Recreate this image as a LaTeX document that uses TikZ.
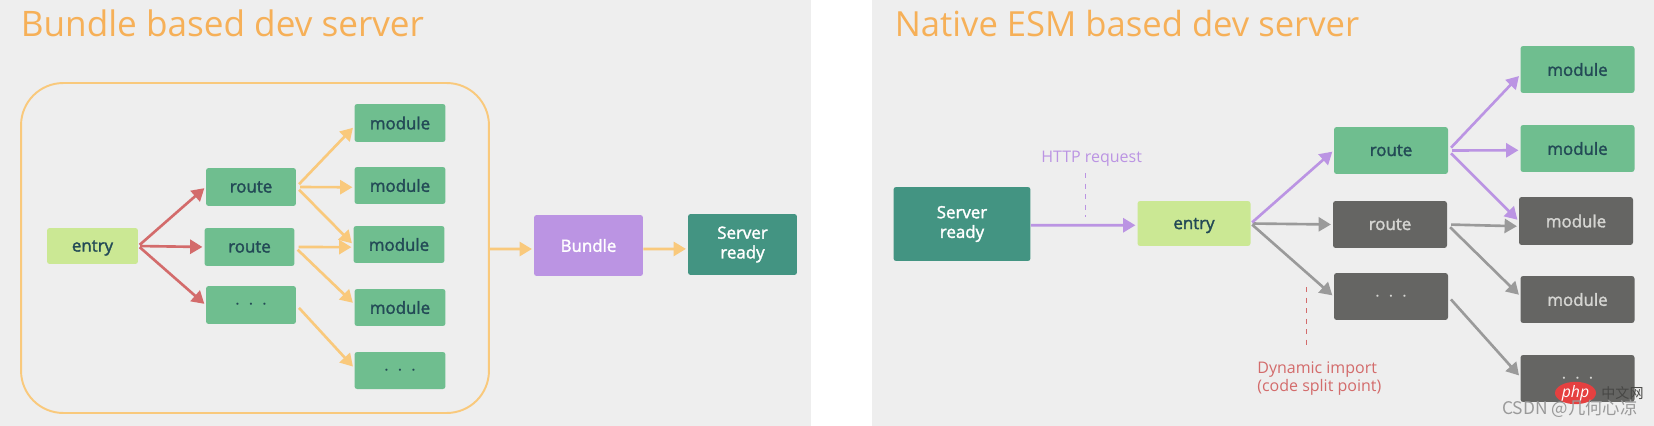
\documentclass[tikz,border=0pt]{standalone}
\usepackage{fontspec}
\usepackage{tikz}
\usetikzlibrary{arrows.meta, shapes.geometric}
\setmainfont{Open Sans}
\newfontfamily\labelfont[FakeBold=1.8]{Open Sans}
\newfontfamily\cjkfont{Noto Sans CJK SC}
\definecolor{panelgray}{HTML}{EEEEEE}
\definecolor{titleorange}{HTML}{F6B058}
\definecolor{lineorange}{HTML}{F9C97C}
\definecolor{routegreen}{HTML}{6FBE8F}
\definecolor{servergreen}{HTML}{439482}
\definecolor{entrygreen}{HTML}{CBE894}
\definecolor{bundlepurple}{HTML}{BB94E3}
\definecolor{linered}{HTML}{D36B6B}
\definecolor{boxgray}{HTML}{656563}
\definecolor{linegray}{HTML}{9A9A9A}
\definecolor{labeldark}{HTML}{234A56}
\definecolor{labelgray}{HTML}{D5D5D2}
\newcommand{\morelabel}{\fontsize{12}{12}\selectfont$\cdot\mkern2.5mu\cdot\mkern2.5mu\cdot$}
\tikzset{
    box/.style={rectangle, rounded corners=1.5pt, inner sep=0pt, align=center, font=\fontsize{9.6}{11.2}\selectfont\labelfont},
    greenbox/.style={box, fill=routegreen, text=labeldark},
    graybox/.style={box, fill=boxgray, text=labelgray},
    lightbox/.style={box, fill=entrygreen, text=labeldark, text depth=0pt},
    serverbox/.style={box, fill=servergreen, text=white},
    arrow/.style={-{Triangle[length=7pt,width=8pt]}, line width=1.5pt, shorten <=1pt, shorten >=1pt},
    fanarrow/.style={arrow, shorten <=2.2pt},
    heading/.style={anchor=base west, inner sep=0pt, text=titleorange, font=\fontsize{20}{20}\selectfont},
    note/.style={anchor=base west, inner sep=0pt, font=\fontsize{9.1}{16}\selectfont},
}
\begin{document}
\begin{tikzpicture}[x=0.02cm, y=-0.02cm]
        \useasboundingbox (0, 0) rectangle (1654, 426);
        \fill [panelgray] (0, 0) rectangle (811, 426); % left panel
        \fill [panelgray] (872, 0) rectangle (1654, 426); % right panel

        % left panel
        \node [heading] (titleA) at (20.5, 36) {Bundle based dev server};
        \node [draw=lineorange, line width=1.1pt, rounded corners=24pt, inner sep=0pt, minimum width=9.36cm, minimum height=6.6cm] (bundlebox) at (255, 248) {};
        \node [lightbox, minimum width=1.82cm, minimum height=0.72cm] (entryA) at (92.5, 246) {entry};
        \node [greenbox, minimum width=1.8cm, minimum height=0.76cm] (routeA) at (251, 187) {route};
        \node [greenbox, minimum width=1.8cm, minimum height=0.76cm] (routeB) at (249.5, 247) {route};
        \node [greenbox, minimum width=1.8cm, minimum height=0.76cm] (routeC) at (251, 305) {\morelabel};
        \node [greenbox, minimum width=1.82cm, minimum height=0.76cm] (moduleA) at (400, 123) {module};
        \node [greenbox, minimum width=1.82cm, minimum height=0.74cm] (moduleB) at (400, 185.5) {module};
        \node [greenbox, minimum width=1.82cm, minimum height=0.74cm] (moduleC) at (399, 244.5) {module};
        \node [greenbox, minimum width=1.82cm, minimum height=0.74cm] (moduleD) at (400, 307.5) {module};
        \node [greenbox, minimum width=1.82cm, minimum height=0.74cm] (moduleE) at (400, 370.5) {\morelabel};
        \node [box, fill=bundlepurple, text=white, minimum width=2.18cm, minimum height=1.22cm] (bundle) at (588.5, 245.5) {Bundle};
        \node [serverbox, minimum width=2.18cm, minimum height=1.22cm] (serverA) at (742.5, 244.5) {Server\\ready};

        \draw [arrow, linered] (entryA.east) -- (routeA.west);
        \draw [arrow, linered] (entryA.east) -- (routeB.west);
        \draw [arrow, linered] (entryA.east) -- (routeC.west);
        \draw [fanarrow, lineorange] (routeA.east) -- ([yshift=-2pt]moduleA.west);
        \draw [fanarrow, lineorange] (routeA.east) -- ([yshift=-1pt]moduleB.west);
        \draw [fanarrow, lineorange] (routeA.east) -- (moduleC.west);
        \draw [fanarrow, lineorange] (routeB.east) -- ([yshift=-1.5pt]moduleC.west);
        \draw [fanarrow, lineorange] (routeB.east) -- ([yshift=2pt]moduleD.west);
        \draw [fanarrow, lineorange] (routeC.east) -- ([yshift=1.5pt]moduleE.west);
        \draw [arrow, lineorange, shorten <=0pt] ([yshift=-0.6pt]bundlebox.east) -- ([yshift=-2pt]bundle.west);
        \draw [arrow, lineorange, shorten <=0pt] ([yshift=-2pt]bundle.east) -- ([yshift=-2.5pt]serverA.west);

        % right panel
        \node [heading, font=\fontsize{19.7}{20}\selectfont] (titleB) at (894.5, 36) {Native ESM based dev server};
        \node [serverbox, minimum width=2.74cm, minimum height=1.48cm] (serverB) at (962, 224) {Server\\ready};
        \node [lightbox, minimum width=2.26cm, minimum height=0.9cm] (entryB) at (1194, 223.5) {entry};
        \node [greenbox, minimum width=2.28cm, minimum height=0.94cm] (routeD) at (1391, 150.5) {route};
        \node [graybox, minimum width=2.28cm, minimum height=0.94cm] (routeE) at (1390, 224.5) {route};
        \node [graybox, minimum width=2.28cm, minimum height=0.94cm] (routeF) at (1391, 296.5) {\morelabel};
        \node [greenbox, minimum width=2.28cm, minimum height=0.94cm] (moduleF) at (1577.5, 69.5) {module};
        \node [greenbox, minimum width=2.28cm, minimum height=0.94cm] (moduleG) at (1577.5, 148.5) {module};
        \node [graybox, minimum width=2.28cm, minimum height=0.96cm] (moduleH) at (1576, 221) {module};
        \node [graybox, minimum width=2.28cm, minimum height=0.94cm] (moduleI) at (1577.5, 299.5) {module};
        \node [graybox, minimum width=2.28cm, minimum height=0.94cm] (moduleJ) at (1577.5, 378.5) {\morelabel};

        \draw [arrow, linegray] (entryB.east) -- (routeE.west);
        \draw [arrow, linegray] (entryB.east) -- (routeF.west);
        \draw [fanarrow, linegray] (routeE.east) -- ([yshift=-3pt]moduleH.west);
        \draw [fanarrow, linegray] (routeE.east) -- ([yshift=2pt]moduleI.west);
        \draw [fanarrow, linegray] (routeF.east) -- ([yshift=1pt]moduleJ.west);
        \draw [arrow, bundlepurple, shorten <=0pt] ([yshift=-0.7pt]serverB.east) -- ([yshift=-1pt]entryB.west);
        \draw [arrow, bundlepurple] (entryB.east) -- (routeD.west);
        \draw [fanarrow, bundlepurple] (routeD.east) -- ([yshift=-3pt]moduleF.west);
        \draw [fanarrow, bundlepurple] (routeD.east) -- ([yshift=-1pt]moduleG.west);
        \draw [fanarrow, bundlepurple] (routeD.east) -- (moduleH.west);

        \node [note, text=bundlepurple] (httpnote) at (1041, 162) {HTTP request};
        \coordinate (httptop) at (1085.5, 173);
        \coordinate (httpend) at (1085.5, 217);
        \draw [bundlepurple, dashed, line width=0.6pt] (httptop) -- (httpend);
        \node [note, text=linered] (importnote) at (1257, 373) {Dynamic import};
        \node [note, text=linered] (splitnote) at (1257, 391) {(code split point)};
        \coordinate (importtop) at (1306.5, 287);
        \coordinate (importend) at (1306.5, 350);
        \draw [linered, dashed, line width=0.6pt] (importtop) -- (importend);

        % watermark
        \node [ellipse, fill=red!40!linered, minimum width=0.82cm, minimum height=0.4cm, inner sep=0pt, text=white] (phpmark) at (1575.5, 393) {\fontsize{9}{9}\selectfont\itshape php};
        \node [inner sep=0pt, text=boxgray!70!black] (cnmark) at (1622.5, 393) {\cjkfont\fontsize{8}{8}\selectfont 中文网};
        \node [anchor=east, inner sep=0pt, text=linegray] (csdnmark) at (1638, 408.5) {\cjkfont\fontsize{9.9}{10}\selectfont CSDN @几何心凉};
\end{tikzpicture}
\end{document}
